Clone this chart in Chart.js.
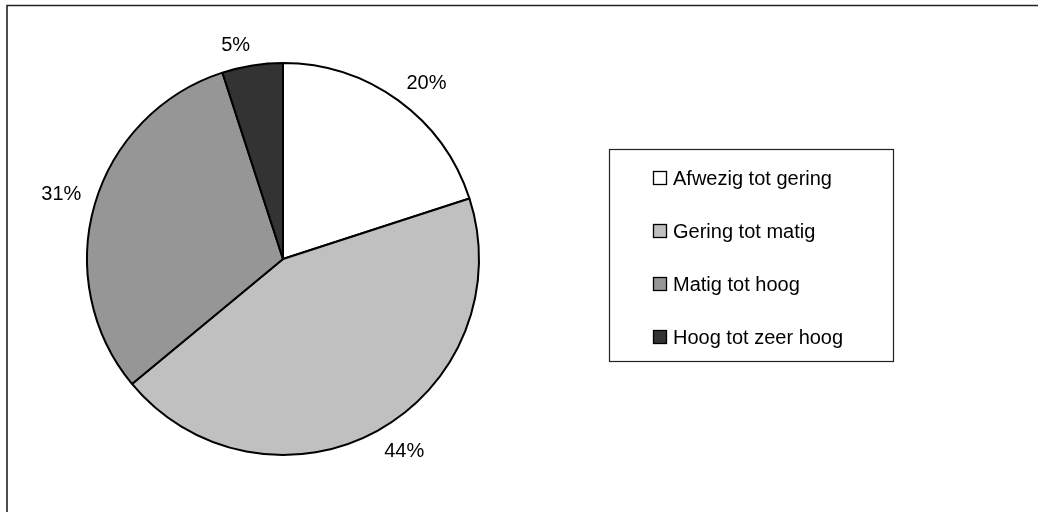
<!DOCTYPE html>
<html>
<head>
<meta charset="utf-8">
<script src="https://cdn.jsdelivr.net/npm/chart.js@4/dist/chart.umd.min.js"></script>
<style>
  html, body { margin: 0; padding: 0; background: #fff; }
  #wrap { width: 1038px; height: 512px; position: relative; }
</style>
</head>
<body>
<div id="wrap"><canvas id="c" width="1038" height="512"></canvas></div>
<script>
// Categories and their shares (%)
const categories = ['Afwezig tot gering', 'Gering tot matig', 'Matig tot hoog', 'Hoog tot zeer hoog'];
const shares = [20, 44, 31, 5];
const valueLabels = ['20%', '44%', '31%', '5%'];
const sliceColors = ['#ffffff', '#c0c0c0', '#969696', '#333333'];

const FONT = '"Liberation Sans", Arial, sans-serif';

// Outer frame: top and left rules of the chart area
const framePlugin = {
  id: 'frame',
  beforeDraw(chart) {
    const ctx = chart.ctx;
    ctx.save();
    ctx.fillStyle = '#fff';
    ctx.fillRect(0, 0, chart.width, chart.height);
    ctx.strokeStyle = '#222';
    ctx.lineWidth = 1.6;
    ctx.beginPath();
    ctx.moveTo(7, chart.height);
    ctx.lineTo(7, 5.5);
    ctx.lineTo(chart.width, 5.5);
    ctx.stroke();
    ctx.restore();
  }
};

// Percentage labels: anchored just outside the arc at the slice's mid angle,
// with the text box hanging away from the pie
const outsideLabels = {
  id: 'outsideLabels',
  afterDatasetsDraw(chart) {
    const ctx = chart.ctx;
    const meta = chart.getDatasetMeta(0);
    ctx.save();
    ctx.font = '20px ' + FONT;
    ctx.fillStyle = '#000';
    ctx.textAlign = 'center';
    ctx.textBaseline = 'middle';
    meta.data.forEach((arc, i) => {
      const p = arc.getProps(['x', 'y', 'startAngle', 'endAngle', 'outerRadius'], true);
      const mid = (p.startAngle + p.endAngle) / 2;
      const d = p.outerRadius + 14;
      const text = valueLabels[i];
      const w = ctx.measureText(text).width;
      const h = 14;
      const ax = p.x + Math.cos(mid) * d;
      const ay = p.y + Math.sin(mid) * d;
      const cx = ax + Math.sign(Math.cos(mid)) * w / 2;
      const cy = ay + Math.sign(Math.sin(mid)) * h / 2;
      ctx.fillText(text, cx, cy + 1);
    });
    ctx.restore();
  }
};

// Boxed legend to the right of the pie
const boxLegend = {
  id: 'boxLegend',
  afterDraw(chart) {
    const ctx = chart.ctx;
    const box = { x: 609, y: 149, w: 284, h: 212 };
    ctx.save();
    ctx.strokeStyle = '#222';
    ctx.lineWidth = 1.2;
    ctx.strokeRect(box.x + 0.5, box.y + 0.5, box.w, box.h);
    ctx.font = '20px ' + FONT;
    ctx.textBaseline = 'middle';
    ctx.textAlign = 'left';
    const ds = chart.data.datasets[0];
    chart.data.labels.forEach((lab, i) => {
      const yc = box.y + 29 + i * 53;
      ctx.fillStyle = ds.backgroundColor[i];
      ctx.fillRect(653.5, yc - 6.5, 13, 13);
      ctx.strokeStyle = '#000';
      ctx.lineWidth = 1.3;
      ctx.strokeRect(653.5, yc - 6.5, 13, 13);
      ctx.fillStyle = '#000';
      ctx.fillText(lab, 673, yc + 1);
    });
    ctx.restore();
  }
};

new Chart(document.getElementById('c'), {
  type: 'pie',
  data: {
    labels: categories,
    datasets: [{
      data: shares,
      backgroundColor: sliceColors,
      borderColor: '#000',
      borderWidth: 2,
      radius: 196
    }]
  },
  options: {
    responsive: false,
    animation: false,
    events: [],
    layout: { padding: { left: 87, right: 559, top: 63, bottom: 57 } },
    plugins: {
      legend: { display: false },
      tooltip: { enabled: false }
    }
  },
  plugins: [framePlugin, outsideLabels, boxLegend]
});
</script>
</body>
</html>
